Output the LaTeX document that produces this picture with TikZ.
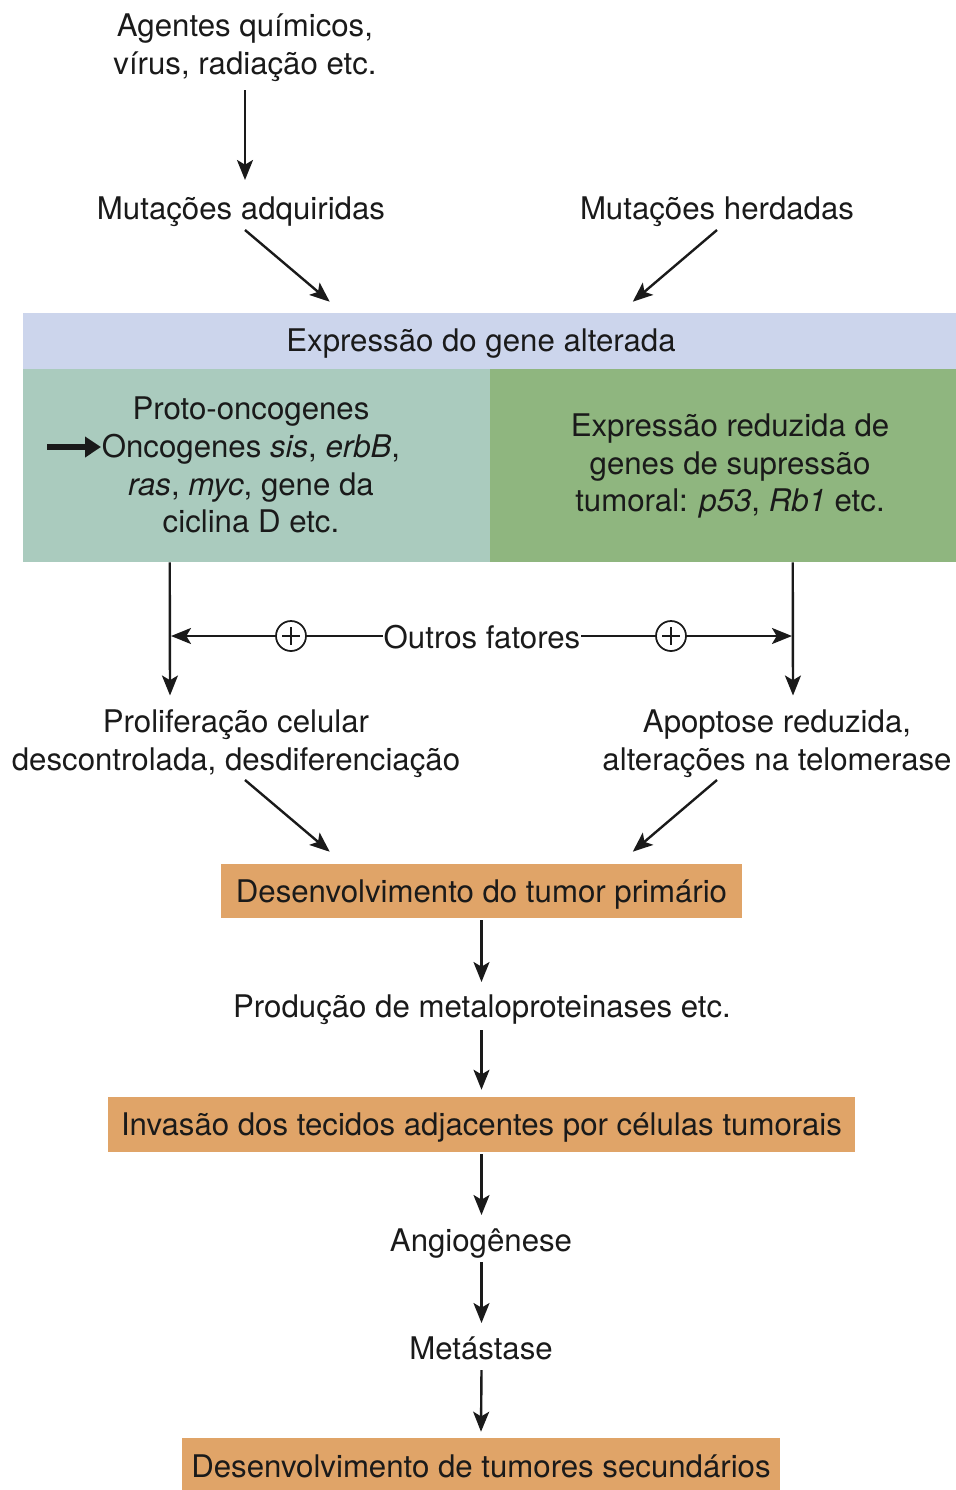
\documentclass[tikz,border=0pt]{standalone}
\usepackage{fontspec}
\setmainfont{TeX Gyre Heros}
\usetikzlibrary{arrows.meta,calc}
\definecolor{bandblue}{HTML}{CCD5EC}
\definecolor{tealbox}{HTML}{AACBBE}
\definecolor{greenbox}{HTML}{8FB67F}
\definecolor{orangebox}{HTML}{E0A468}
\definecolor{ink}{HTML}{1A1A1A}
\begin{document}
\begin{tikzpicture}[x=0.75pt,y=-0.75pt,
  every node/.style={font=\fontsize{23.4}{28.4}\selectfont, inner sep=0pt, text=ink},
  txt/.style={align=center},
  arr/.style={draw=ink, line width=1.8pt, -{Stealth[length=15pt,width=12pt,inset=3.5pt]}},
  ln/.style={draw=ink, line width=1.8pt},
  obox/.style={fill=orangebox, minimum height=40.5pt},
  plus/.style={circle, draw=ink, line width=1.3pt, minimum size=22.5pt}]
\useasboundingbox (0,0) rectangle (956,1490);

% colored blocks
\node[fill=bandblue, minimum width=699.75pt, minimum height=42pt] (band) at (489.5,341) {};
\node[fill=tealbox, minimum width=350.25pt, minimum height=144.75pt] (leftbox) at (256.5,465.5) {};
\node[fill=greenbox, minimum width=349.5pt, minimum height=144.75pt] (rightbox) at (723,465.5) {};
\node (bandtxt) at (481,344) {Expressão do gene alterada};
\node[txt] (proto) at (251,465) {Proto-oncogenes\\Oncogenes \textit{sis}, \textit{erbB},\\\textit{ras}, \textit{myc}, gene da\\ciclina D etc.};
\node[txt] (supr) at (730,466) {Expressão reduzida de\\genes de supressão\\tumoral: \textit{p53}, \textit{Rb1} etc.};
\coordinate (oncarrow) at (101,447);
\draw[draw=ink, line width=3.8pt, -{Triangle[length=12pt,width=15pt]}] ($(oncarrow)+(-54,0)$) -- (oncarrow);

% top
\node[txt] (agentes) at (245,48) {Agentes químicos,\\vírus, radiação etc.};
\node (madq) at (241,212) {Mutações adquiridas};
\node (mher) at (717,212) {Mutações herdadas};
\draw[arr] ($(agentes.center)+(0,42)$) -- ($(madq.center)+(4,-32)$);
\draw[arr] ($(madq.center)+(4,18)$) -- ($(band.north west)+(307,-11)$);
\draw[arr] ($(mher.center)+(0,18)$) -- ($(band.north west)+(610,-11)$);

% middle
\node[txt] (prolif) at (236,743.5) {Proliferação celular\\descontrolada, desdiferenciação};
\node[txt] (apop) at (777,743.5) {Apoptose reduzida,\\alterações na telomerase};
\draw[arr] ($(leftbox.south west)+(147,0)$) -- ($(prolif.center)+(-66,-48)$);
\draw[arr] ($(rightbox.south west)+(303,0)$) -- ($(apop.center)+(16,-48)$);
\coordinate (lt) at (171,636);
\coordinate (rt) at (792,636);
\node (outros) at (482,637) {Outros fatores};
\node[plus] (p1) at (291,636) {};
\node[plus] (p2) at (671,636) {};
\foreach \p in {p1,p2}{
  \draw[ln, line width=1.3pt] ($(\p)+(0,-9)$) -- ($(\p)+(0,9)$);
  \draw[ln, line width=1.3pt] ($(\p)+(-9,0)$) -- ($(\p)+(9,0)$);
}
\draw[arr] (p1.west) -- (lt);
\draw[ln] (p1.east) -- ([xshift=-0.5pt]outros.west |- p1.east);
\draw[ln] ([xshift=0.5pt]outros.east |- p2.west) -- (p2.west);
\draw[arr] (p2.east) -- (rt);

% lower chain
\node[obox, minimum width=390.75pt] (box1) at (481.5,891) {};
\node (box1txt) at (481.5,895) {Desenvolvimento do tumor primário};
\draw[arr] ($(prolif.center)+(9,36.5)$) -- ($(box1.north west)+(109,-12)$);
\draw[arr] ($(apop.center)+(-60,36.5)$) -- ($(box1.north west)+(412,-12)$);
\node (prod) at (482,1010) {Produção de metaloproteinases etc.};
\node[obox, minimum width=560.25pt, minimum height=41.25pt] (box2) at (481.5,1124.5) {};
\node (box2txt) at (481.5,1127.5) {Invasão dos tecidos adjacentes por células tumorais};
\node (angio) at (481,1243) {Angiogênese};
\node (meta) at (481,1348) {Metástase};
\node[obox, minimum width=448.5pt, minimum height=39pt] (box3) at (481,1464) {};
\node (box3txt) at (481,1466) {Desenvolvimento de tumores secundários};

\draw[arr] ($(box1.south)+(0,2)$) -- ($(prod.center)+(-0.5,-28)$);
\draw[arr] ($(prod.center)+(-0.5,20)$) -- ($(box2.north)+(0,-7)$);
\draw[arr] ($(box2.south)+(0,2)$) -- ($(angio.center)+(0.5,-28)$);
\draw[arr] ($(angio.center)+(0.5,19)$) -- ($(meta.center)+(0.5,-25)$);
\draw[arr] ($(meta.center)+(0.5,22)$) -- ($(box3.north)+(0,-6)$);
\end{tikzpicture}
\end{document}
